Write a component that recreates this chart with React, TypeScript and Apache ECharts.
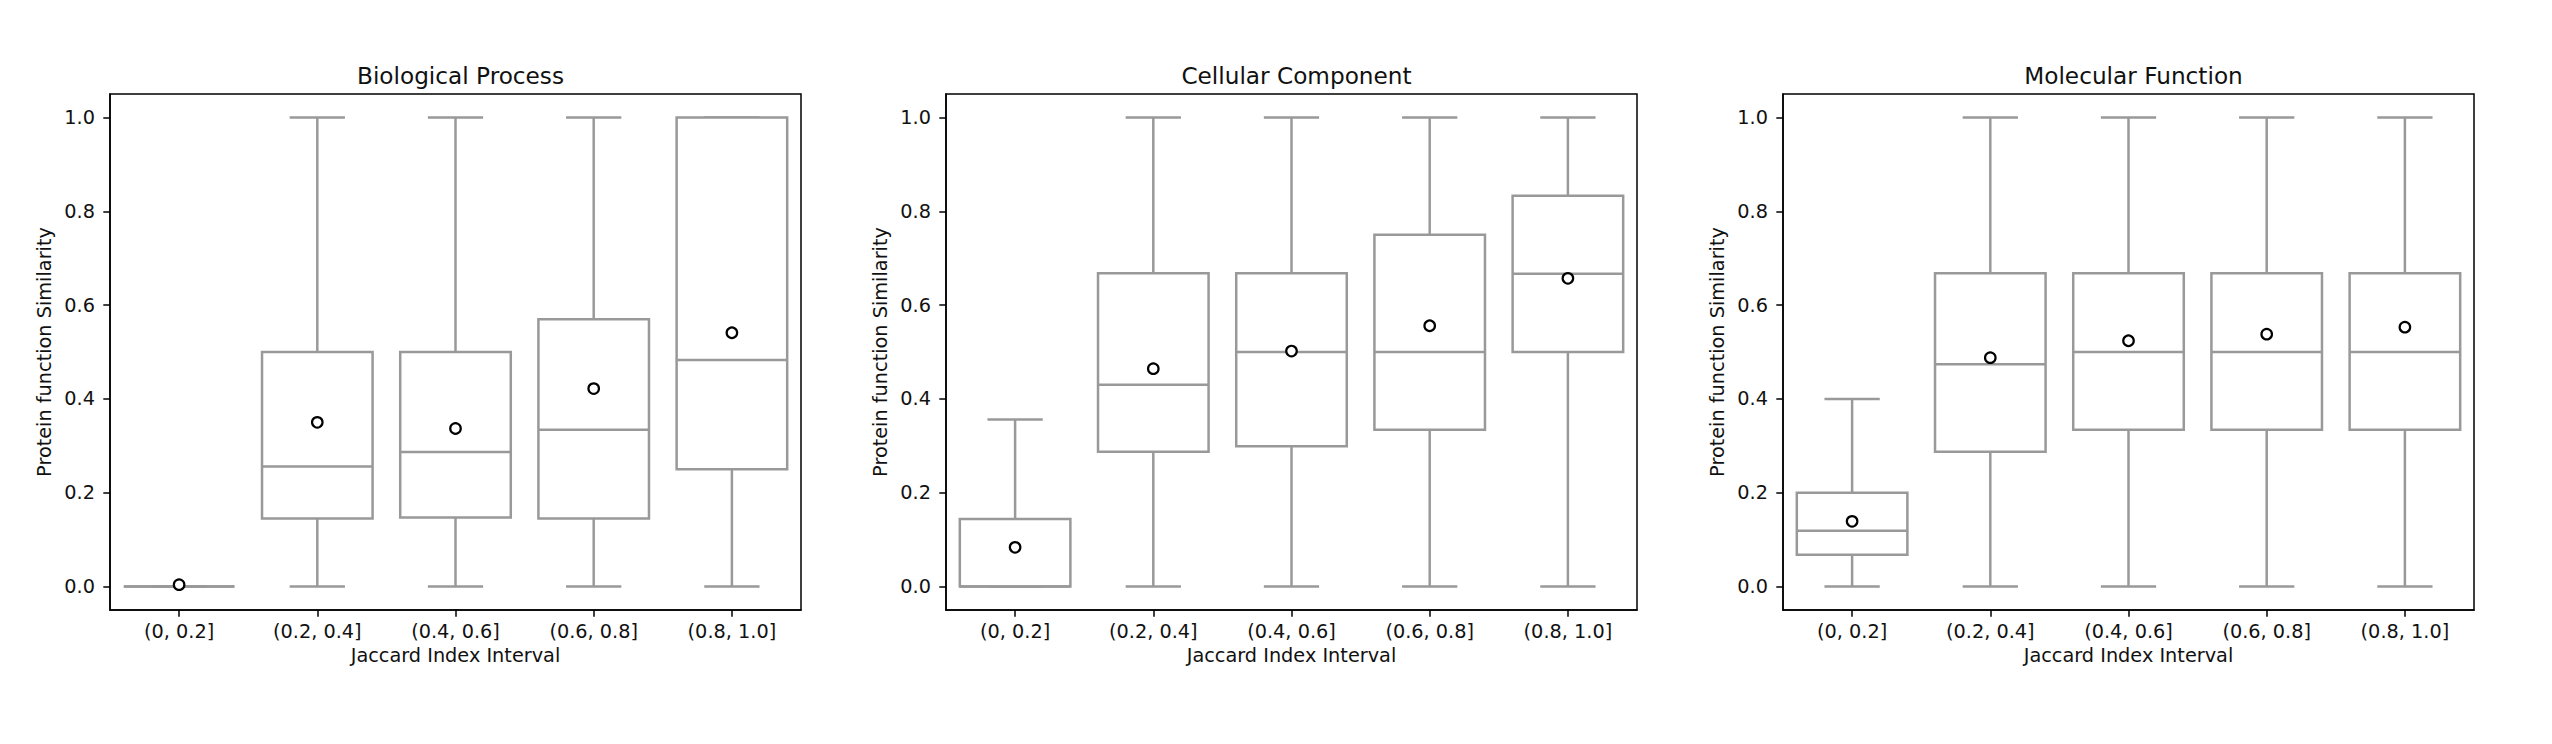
import React, { useEffect, useRef } from "react";
import * as echarts from "echarts";

const CATEGORIES = ["(0, 0.2]", "(0.2, 0.4]", "(0.4, 0.6]", "(0.6, 0.8]", "(0.8, 1.0]"];
const Y_TICKS = [0, 0.2, 0.4, 0.6, 0.8, 1.0];
const PANEL_TITLES = ["Biological Process", "Cellular Component", "Molecular Function"];

// Biological Process
const BP_LOW = [0, 0, 0, 0, 0];
const BP_Q1 = [0, 0.145, 0.147, 0.145, 0.25];
const BP_MEDIAN = [0, 0.256, 0.287, 0.334, 0.483];
const BP_Q3 = [0, 0.5, 0.5, 0.57, 1.0];
const BP_HIGH = [0, 1, 1, 1, 1];
const BP_MEAN = [0.004, 0.35, 0.337, 0.422, 0.541];

// Cellular Component
const CC_LOW = [0, 0, 0, 0, 0];
const CC_Q1 = [0, 0.2875, 0.299, 0.334, 0.5];
const CC_MEDIAN = [0, 0.43, 0.5, 0.5, 0.667];
const CC_Q3 = [0.1438, 0.668, 0.668, 0.75, 0.833];
const CC_HIGH = [0.356, 1, 1, 1, 1];
const CC_MEAN = [0.0836, 0.4645, 0.502, 0.556, 0.657];

// Molecular Function
const MF_LOW = [0, 0, 0, 0, 0];
const MF_Q1 = [0.0676, 0.2875, 0.334, 0.334, 0.334];
const MF_MEDIAN = [0.119, 0.474, 0.5, 0.5, 0.5];
const MF_Q3 = [0.2, 0.668, 0.668, 0.668, 0.668];
const MF_HIGH = [0.4, 1, 1, 1, 1];
const MF_MEAN = [0.139, 0.488, 0.524, 0.538, 0.553];

const PANELS = [
  { low: BP_LOW, q1: BP_Q1, med: BP_MEDIAN, q3: BP_Q3, high: BP_HIGH, mean: BP_MEAN },
  { low: CC_LOW, q1: CC_Q1, med: CC_MEDIAN, q3: CC_Q3, high: CC_HIGH, mean: CC_MEAN },
  { low: MF_LOW, q1: MF_Q1, med: MF_MEDIAN, q3: MF_Q3, high: MF_HIGH, mean: MF_MEAN },
];

const GRID_LEFTS = [110, 946, 1783];
const GRID_TOP = 94;
const GRID_W = 691;
const GRID_H = 516;
const FONT = "DejaVu Sans";
const BOX_COLOR = "#999999";
const TEXT_COLOR = "#111111";

function renderBox(params: any, api: any) {
  const x = api.value(0);
  const lw = api.value(1);
  const q1 = api.value(2);
  const med = api.value(3);
  const q3 = api.value(4);
  const hw = api.value(5);
  const band = api.size([1, 0])[0];
  const half = band * 0.4;
  const cap = band * 0.2;
  const cx = api.coord([x, lw])[0];
  const yLw = api.coord([x, lw])[1];
  const yQ1 = api.coord([x, q1])[1];
  const yMed = api.coord([x, med])[1];
  const yQ3 = api.coord([x, q3])[1];
  const yHw = api.coord([x, hw])[1];
  const style = { stroke: BOX_COLOR, lineWidth: 2.5, fill: null };
  return {
    type: "group",
    children: [
      { type: "line", shape: { x1: cx, y1: yQ1, x2: cx, y2: yLw }, style },
      { type: "line", shape: { x1: cx, y1: yQ3, x2: cx, y2: yHw }, style },
      { type: "line", shape: { x1: cx - cap, y1: yLw, x2: cx + cap, y2: yLw }, style },
      { type: "line", shape: { x1: cx - cap, y1: yHw, x2: cx + cap, y2: yHw }, style },
      {
        type: "polygon",
        shape: {
          points: [
            [cx - half, yQ3],
            [cx + half, yQ3],
            [cx + half, yQ1],
            [cx - half, yQ1],
          ],
        },
        style: { stroke: BOX_COLOR, lineWidth: 2.5, fill: "#ffffff" },
      },
      { type: "line", shape: { x1: cx - half, y1: yMed, x2: cx + half, y2: yMed }, style },
    ],
  };
}

export default function App() {
  const ref = useRef<HTMLDivElement>(null);

  useEffect(() => {
    if (!ref.current) return;
    const chart = echarts.init(ref.current, null, { renderer: "svg" });

    const grids = GRID_LEFTS.map((left) => ({
      left,
      top: GRID_TOP,
      width: GRID_W,
      height: GRID_H,
      show: true,
      borderColor: "#000000",
      borderWidth: 1.5,
      backgroundColor: "transparent",
      containLabel: false,
      outerBoundsMode: "none",
    }));

    const titles = PANEL_TITLES.map((t, i) => ({
      text: t,
      left: GRID_LEFTS[i] + GRID_W / 2,
      top: 59,
      textAlign: "center",
      textStyle: { fontFamily: FONT, fontSize: 23.2, fontWeight: "normal", color: TEXT_COLOR },
    }));

    const xAxes = PANELS.map((_, i) => ({
      type: "category",
      gridIndex: i,
      data: CATEGORIES,
      boundaryGap: true,
      axisLine: { show: true, onZero: false, lineStyle: { color: "#000000", width: 1.5 } },
      axisTick: { show: true, alignWithLabel: true, length: 6.7, lineStyle: { color: "#000000", width: 1.5 } },
      axisLabel: { interval: 0, fontFamily: FONT, fontSize: 19.3, color: TEXT_COLOR, margin: 12 },
      splitLine: { show: false },
      name: "Jaccard Index Interval",
      nameLocation: "middle",
      nameGap: 36,
      nameTextStyle: { fontFamily: FONT, fontSize: 19.3, color: TEXT_COLOR },
    }));

    const yAxes = PANELS.map((_, i) => ({
      type: "value",
      gridIndex: i,
      min: -0.05,
      max: 1.05,
      axisLine: { show: true, onZero: false, lineStyle: { color: "#000000", width: 1.5 } },
      axisTick: { show: true, length: 6.7, customValues: Y_TICKS, lineStyle: { color: "#000000", width: 1.5 } },
      axisLabel: {
        customValues: Y_TICKS,
        formatter: (v: number) => v.toFixed(1),
        fontFamily: FONT,
        fontSize: 19.3,
        color: TEXT_COLOR,
        margin: 15,
      },
      splitLine: { show: false },
      name: "Protein function Similarity",
      nameLocation: "middle",
      nameRotate: 90,
      nameGap: 56,
      nameTextStyle: { fontFamily: FONT, fontSize: 19.3, color: TEXT_COLOR },
    }));

    const series: any[] = [];
    PANELS.forEach((p, i) => {
      series.push({
        type: "custom",
        xAxisIndex: i,
        yAxisIndex: i,
        renderItem: renderBox,
        encode: { x: 0, y: [1, 2, 3, 4, 5] },
        data: CATEGORIES.map((_, k) => [k, p.low[k], p.q1[k], p.med[k], p.q3[k], p.high[k]]),
        z: 2,
      });
      series.push({
        type: "scatter",
        xAxisIndex: i,
        yAxisIndex: i,
        symbol: "circle",
        symbolSize: 10.5,
        itemStyle: { color: "#ffffff", borderColor: "#000000", borderWidth: 2.2, opacity: 1 },
        data: CATEGORIES.map((c, k) => [c, p.mean[k]]),
        z: 5,
      });
    });

    chart.setOption({
      animation: false,
      backgroundColor: "#ffffff",
      textStyle: { fontFamily: FONT },
      title: titles,
      grid: grids,
      xAxis: xAxes,
      yAxis: yAxes,
      series,
    });

    return () => chart.dispose();
  }, []);

  return (
    <div
      ref={ref}
      style={{ position: "absolute", left: 0, top: 0, width: 2552, height: 744 }}
    />
  );
}
